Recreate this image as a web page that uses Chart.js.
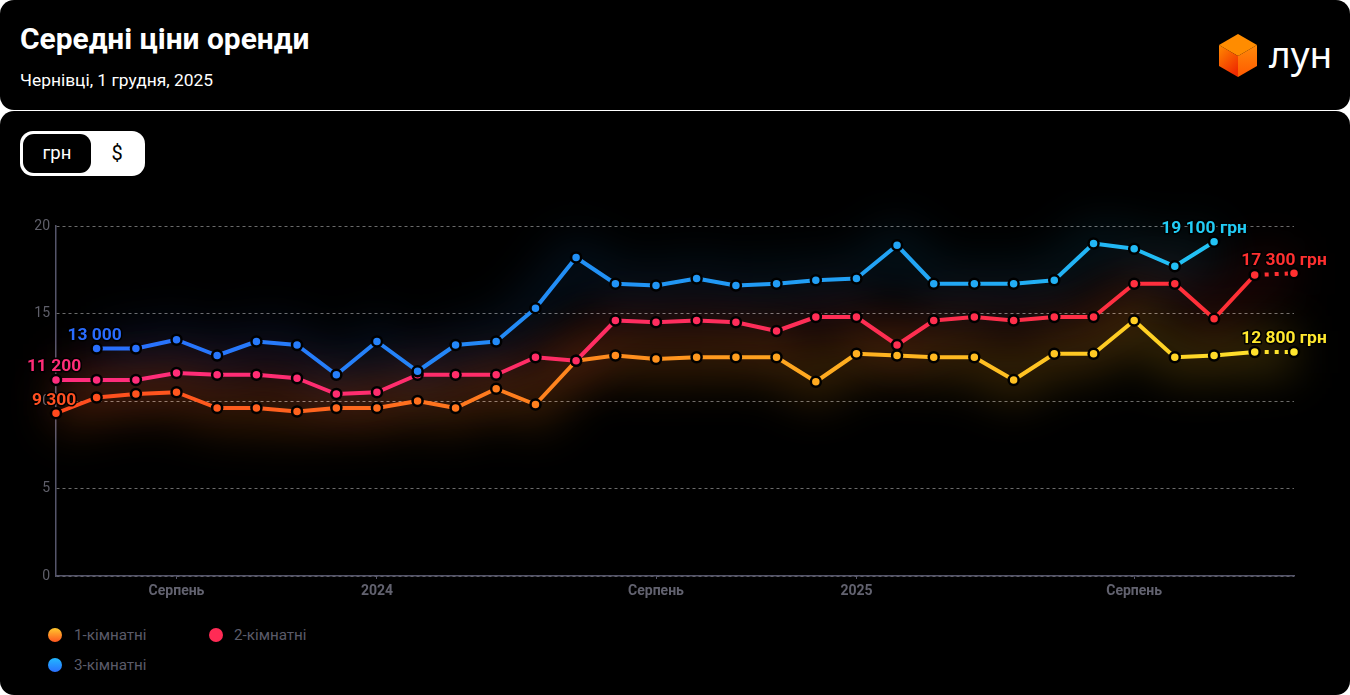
<!DOCTYPE html>
<html lang="uk">
<head>
<meta charset="utf-8">
<title>Середні ціни оренди</title>
<script src="https://cdn.jsdelivr.net/npm/chart.js@4/dist/chart.umd.min.js"></script>
<style>
html,body{margin:0;padding:0;width:1350px;height:695px;background:#fff;overflow:hidden;font-family:Roboto,sans-serif}
.panel{position:absolute;left:0;width:1350px;background:#000;border-radius:14px}
#top{top:0;height:110px}
#bottom{top:111px;height:584px}
#title{position:absolute;left:20px;top:21px;font-size:29.9px;line-height:36px;font-weight:700;color:#fff;white-space:nowrap}
#sub{position:absolute;left:20px;top:69px;font-size:17.4px;line-height:22px;font-weight:400;color:#fff;white-space:nowrap}
#logo{position:absolute;left:1219px;top:33px;width:40px;height:46px}
#brand{position:absolute;left:1269px;top:31px;font-family:"Noto Sans",sans-serif;font-size:37px;line-height:46px;color:#fff}
#toggle{position:absolute;left:20px;top:131px;width:125px;height:45px;background:#fff;border-radius:13px}
#uah{position:absolute;left:3px;top:3px;width:68px;height:39px;background:#000;border-radius:11px;color:#fff;font-size:18.5px;font-weight:400;line-height:39px;text-align:center}
#usd{position:absolute;left:71px;top:3px;width:52px;height:39px;color:#000;font-size:20px;line-height:38px;text-align:center}
#wrap{position:absolute;left:0;top:190px;width:1350px;height:420px}
.lg{position:absolute;font-size:15.2px;line-height:20px;color:#5b5b69;white-space:nowrap}
.dot{position:absolute;width:14px;height:14px;border-radius:50%}
</style>
</head>
<body>
<div class="panel" id="top"></div>
<div class="panel" id="bottom"></div>
<div id="title">Середні ціни оренди</div>
<div id="sub">Чернівці, 1 грудня, 2025</div>
<svg id="logo" viewBox="0 0 40 46">
<defs>
<linearGradient id="c1" x1="0" y1="0" x2="0.6" y2="1"><stop offset="0" stop-color="#ff8a00"/><stop offset="1" stop-color="#f02c00"/></linearGradient>
<linearGradient id="c2" x1="0" y1="0" x2="0" y2="1"><stop offset="0" stop-color="#ff8a0a"/><stop offset="1" stop-color="#ff5a00"/></linearGradient>
</defs>
<polygon points="19,1 38,12 19,23 0,12" fill="#ff8c00"/>
<polygon points="0,12 19,23 19,44 0,33" fill="url(#c1)"/>
<polygon points="38,12 19,23 19,44 38,33" fill="url(#c2)"/>
</svg>
<div id="brand">лун</div>
<div id="toggle"><div id="uah">грн</div><div id="usd">$</div></div>
<div id="wrap"><canvas id="chart"></canvas></div>
<div class="dot" style="left:48px;top:628px;background:linear-gradient(#ffc82e,#ff561f)"></div>
<div class="lg" style="left:74px;top:625px">1-кімнатні</div>
<div class="dot" style="left:209px;top:628px;background:#ff2b55"></div>
<div class="lg" style="left:234px;top:625px">2-кімнатні</div>
<div class="dot" style="left:48px;top:658px;background:linear-gradient(#22b8ff,#2a70ff)"></div>
<div class="lg" style="left:74px;top:655px">3-кімнатні</div>
<script>
const months = ['2023-05-01','2023-06-01','2023-07-01','2023-08-01','2023-09-01','2023-10-01','2023-11-01','2023-12-01',
'2024-01-01','2024-02-01','2024-03-01','2024-04-01','2024-05-01','2024-06-01','2024-07-01','2024-08-01','2024-09-01','2024-10-01','2024-11-01','2024-12-01',
'2025-01-01','2025-02-01','2025-03-01','2025-04-01','2025-05-01','2025-06-01','2025-07-01','2025-08-01','2025-09-01','2025-10-01','2025-11-01','2025-12-01'];
const oneRoom = [9.3,10.2,10.4,10.5,9.6,9.6,9.4,9.6,9.6,10.0,9.6,10.7,9.8,12.3,12.6,12.4,12.5,12.5,12.5,11.1,12.7,12.6,12.5,12.5,11.2,12.7,12.7,14.6,12.5,12.6,12.8,12.8];
const twoRoom = [11.2,11.2,11.2,11.6,11.5,11.5,11.3,10.4,10.5,11.5,11.5,11.5,12.5,12.3,14.6,14.5,14.6,14.5,14.0,14.8,14.8,13.2,14.6,14.8,14.6,14.8,14.8,16.7,16.7,14.7,17.2,17.3];
const threeRoom = [null,13.0,13.0,13.5,12.6,13.4,13.2,11.5,13.4,11.7,13.2,13.4,15.3,18.2,16.7,16.6,17.0,16.6,16.7,16.9,17.0,18.9,16.7,16.7,16.7,16.9,19.0,18.7,17.7,19.1,null,null];
const seriesNames = ['1-кімнатні','2-кімнатні','3-кімнатні'];
const tickDates = ['2023-08-01','2024-01-01','2024-08-01','2025-01-01','2025-08-01'];
const tickNames = ['Серпень','2024','Серпень','2025','Серпень'];
const unit = 'грн';

const ts = s => Date.parse(s + 'T00:00:00Z');
const toPoints = arr => arr.map((v,i) => ({x: ts(months[i]), y: v}));
const fmt = v => String(Math.round(v*1000)).replace(/\B(?=(\d{3})+$)/g,' ');

const stops = [
  [[0,'#ff4a1e'],[0.25,'#ff6a1e'],[0.45,'#ff8c1e'],[0.65,'#ffb020'],[0.88,'#ffd024'],[1,'#ffe62e']],
  [[0,'#ff2d7e'],[0.45,'#ff2d62'],[0.8,'#ff2f48'],[1,'#ff3030']],
  [[0,'#2a6cff'],[0.45,'#2192f5'],[0.75,'#22aaf5'],[1,'#22ccf5']]
];
const glowStops = [
  [[0,'#ff7410'],[0.5,'#ff8c14'],[1,'#ffc41c']],
  [[0,'#ff2d50'],[1,'#ff3030']],
  stops[2]
];
const gradFrom = (chart, list) => {
  const a = chart.chartArea;
  if(!a) return '#888';
  const g = chart.ctx.createLinearGradient(a.left,0,a.right,0);
  list.forEach(s => g.addColorStop(s[0], s[1]));
  return g;
};
const grad = (chart, i) => gradFrom(chart, stops[i]);

const glowAlpha = [0.2,0.1,0.1];
const glowPlugin = {
  id:'glow',
  beforeDatasetsDraw(chart){
    const ctx = chart.ctx;
    chart.data.datasets.forEach((d,i) => {
      const pts = chart.getDatasetMeta(i).data.filter(p => !p.skip);
      ctx.save();
      ctx.filter = 'blur(22px)';
      ctx.globalAlpha = glowAlpha[i];
      ctx.globalCompositeOperation = 'lighter';
      ctx.strokeStyle = gradFrom(chart, glowStops[i]);
      ctx.lineWidth = 44;
      ctx.lineJoin = 'round';
      ctx.beginPath();
      pts.forEach((p,k) => k ? ctx.lineTo(p.x,p.y) : ctx.moveTo(p.x,p.y));
      ctx.stroke();
      ctx.restore();
    });
  }
};

const labelColors = {first:['#ff5022','#ff2d78','#2a6cff'], last:['#ffe82e','#ff3030','#22ccf5']};
const labelPlugin = {
  id:'endLabels',
  afterDatasetsDraw(chart){
    const ctx = chart.ctx;
    chart.data.datasets.forEach((d,i) => {
      const meta = chart.getDatasetMeta(i).data;
      const idx = d.data.map((p,k) => p.y === null ? -1 : k).filter(k => k >= 0);
      const a = idx[0], b = idx[idx.length-1];
      const draw = (k,txt,dx,col) => {
        const p = meta[k];
        ctx.save();
        ctx.font = 'bold 17.4px Roboto';
        ctx.textAlign = 'center';
        ctx.textBaseline = 'middle';
        ctx.lineJoin = 'round';
        ctx.lineWidth = 3;
        ctx.strokeStyle = '#000';
        ctx.strokeText(txt,p.x+dx,p.y-13);
        ctx.fillStyle = col;
        ctx.fillText(txt,p.x+dx,p.y-13);
        ctx.restore();
      };
      draw(a, fmt(d.data[a].y), -2, labelColors.first[i]);
      draw(b, fmt(d.data[b].y)+' '+unit, -10, labelColors.last[i]);
    });
  }
};

const makeSet = (i,arr,ord) => ({
  label: seriesNames[i],
  data: toPoints(arr),
  order: ord,
  clip: false,
  tension: 0,
  borderWidth: 4,
  borderJoinStyle: 'round',
  borderColor: c => grad(c.chart,i),
  pointBackgroundColor: c => grad(c.chart,i),
  pointBorderColor: '#000',
  pointBorderWidth: 2.5,
  pointRadius: 5,
  pointHoverRadius: 5,
  spanGaps: false,
  segment: { borderDash: c => c.p0DataIndex === months.length-2 ? [4,6] : undefined }
});

new Chart(document.getElementById('chart'),{
  type:'line',
  data:{datasets:[makeSet(0,oneRoom,3),makeSet(1,twoRoom,2),makeSet(2,threeRoom,1)]},
  plugins:[glowPlugin,labelPlugin],
  options:{
    responsive:true,maintainAspectRatio:false,animation:false,
    layout:{padding:{top:36,right:56,left:0,bottom:0}},
    plugins:{legend:{display:false},tooltip:{enabled:false},title:{display:false}},
    scales:{
      x:{
        type:'linear',
        min:ts(months[0]),max:ts(months[months.length-1]),
        afterBuildTicks:s => { s.ticks = tickDates.map(t => ({value:ts(t)})); },
        afterFit:s => { s.height = 34; },
        grid:{drawOnChartArea:false,drawTicks:true,tickLength:3,color:'#55556a'},
        border:{display:true,color:'#55556a',width:1.5},
        ticks:{autoSkip:false,maxRotation:0,padding:4,color:'#62626f',font:{family:'Roboto',size:14,weight:'bold'},
          callback:v => tickNames[tickDates.findIndex(t => ts(t) === v)]}
      },
      y:{
        min:0,max:20,
        afterFit:s => { s.width = 56; },
        grid:{drawTicks:false,color:'#6a6a6a',lineWidth:1},
        border:{display:true,color:'#55556a',width:1.5,dash:[3,3]},
        ticks:{stepSize:5,padding:6,color:'#5f5f6a',font:{family:'Roboto',size:14}}
      }
    }
  }
});
</script>
</body>
</html>
